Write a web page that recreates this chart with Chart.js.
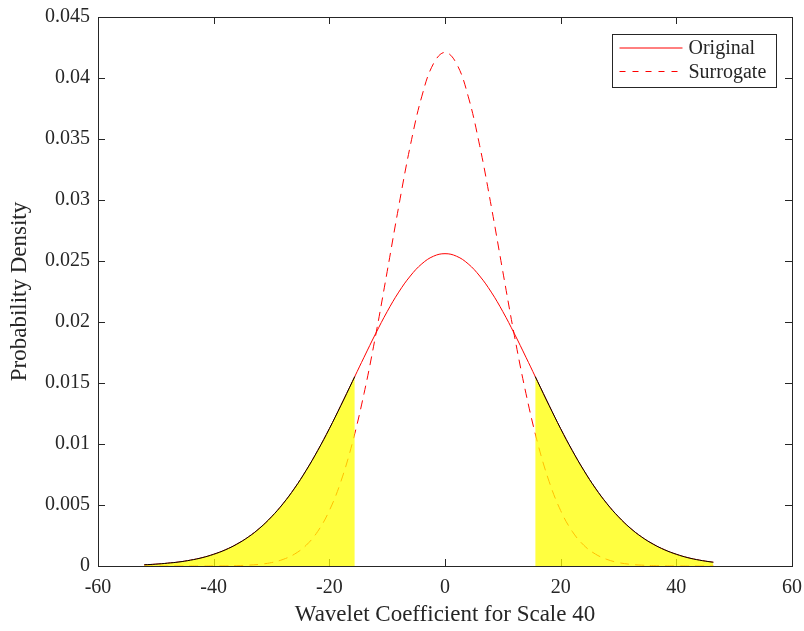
<!DOCTYPE html>
<html>
<head>
<meta charset="utf-8">
<script src="https://cdn.jsdelivr.net/npm/chart.js@4/dist/chart.umd.min.js"></script>
<style>
  html, body { margin: 0; padding: 0; background: #fff; }
  #wrap { width: 804px; height: 631px; }
</style>
</head>
<body>
<div id="wrap"><canvas id="c" width="804" height="631"></canvas></div>
<script>
// values
const xOriginal = [-52,-50,-48,-46,-44,-42,-40,-38,-36,-34,-32,-30,-28,-26,-24,-22,-20,-18,-16,-15.6,
  -14,-12,-10,-8,-6,-4,-2,0,2,4,6,8,10,12,14,
  15.6,16,18,20,22,24,26,28,30,32,34,36,38,40,42,44,46,46.4];
const yOriginal = [0.00010,0.00015,0.00023,0.00033,0.00048,0.00068,0.00096,0.00132,0.00179,0.00238,
  0.00312,0.00403,0.00511,0.00638,0.00784,0.00947,0.01125,0.01316,0.01513,0.01553,
  0.01711,0.01904,0.02085,0.02245,0.02377,0.02477,0.02539,0.02560,0.02539,0.02477,0.02377,0.02245,0.02085,0.01904,0.01711,
  0.01553,0.01513,0.01316,0.01125,0.00947,0.00784,0.00638,0.00511,0.00403,0.00312,0.00238,0.00179,0.00132,0.00096,0.00068,0.00048,0.00033,0.00031];

const xSurrogate = [-52,-50,-48,-46,-44,-42,-40,-38,-36,-34,-32,-30,-28,-26,-24,-22,-20,-18,-16,-14,-12,-10,-8,-6,-4,-2,
  0,2,4,6,8,10,12,14,16,18,20,22,24,26,28,30,32,34,36,38,40,42,44,46,46.4];
const ySurrogate = [0,0,0,0,0,0,0.00001,0.00001,0.00003,0.00007,0.00014,0.00028,0.00054,0.00098,0.00170,0.00284,
  0.00454,0.00693,0.01012,0.01414,0.01888,0.02413,0.02948,0.03445,0.03851,0.04117,
  0.04210,0.04117,0.03851,0.03445,0.02948,0.02413,0.01888,0.01414,0.01012,0.00693,0.00454,0.00284,0.00170,0.00098,
  0.00054,0.00028,0.00014,0.00007,0.00003,0.00001,0.00001,0,0,0,0];

const tailCut = 15.6;
const xTicks = [-60,-40,-20,0,20,40,60];
const yTicks = [0,0.005,0.01,0.015,0.02,0.025,0.03,0.035,0.04,0.045];
const seriesNames = ['Original','Surrogate'];

const axisColor = '#262626';
const fontFam = '"Liberation Serif", "Times New Roman", serif';
Chart.defaults.font.family = fontFam;
Chart.defaults.color = axisColor;

const pts = (xs, ys) => xs.map((x, i) => ({ x, y: ys[i] }));
const original = pts(xOriginal, yOriginal);
const surrogate = pts(xSurrogate, ySurrogate);

// box + inward ticks on all four sides, under the data like matlab
const framePlugin = {
  id: 'frame',
  beforeDatasetsDraw(chart) {
    const { ctx, chartArea: a, scales: { x, y } } = chart;
    const tl = 7;
    ctx.save();
    ctx.strokeStyle = axisColor;
    ctx.lineWidth = 1;
    ctx.beginPath();
    xTicks.forEach(v => {
      const px = Math.round(x.getPixelForValue(v)) + 0.5;
      ctx.moveTo(px, a.bottom); ctx.lineTo(px, a.bottom - tl);
      ctx.moveTo(px, a.top); ctx.lineTo(px, a.top + tl);
    });
    yTicks.forEach(v => {
      const py = Math.round(y.getPixelForValue(v)) + 0.5;
      ctx.moveTo(a.left, py); ctx.lineTo(a.left + tl, py);
      ctx.moveTo(a.right, py); ctx.lineTo(a.right - tl, py);
    });
    ctx.stroke();
    ctx.strokeRect(Math.round(a.left) + 0.5, Math.round(a.top) + 0.5,
      Math.round(a.right - a.left), Math.round(a.bottom - a.top));
    ctx.restore();
  }
};

const legendPlugin = {
  id: 'boxLegend',
  afterDraw(chart) {
    const { ctx, chartArea: a } = chart;
    const w = 164, h = 53;
    const bx = Math.round(a.right - 16 - w) + 0.5, by = Math.round(a.top + 17) + 0.5;
    ctx.save();
    ctx.fillStyle = '#fff';
    ctx.fillRect(bx, by, w, h);
    ctx.strokeStyle = axisColor;
    ctx.lineWidth = 1;
    ctx.strokeRect(bx, by, w, h);
    ctx.font = '20px ' + fontFam;
    ctx.textBaseline = 'middle';
    ctx.fillStyle = axisColor;
    seriesNames.forEach((name, i) => {
      const cy = by + 13.5 + i * 23.5;
      ctx.strokeStyle = '#ff0000';
      ctx.setLineDash(i === 1 ? [6, 7] : []);
      ctx.beginPath();
      ctx.moveTo(bx + 7, cy); ctx.lineTo(bx + 70, cy);
      ctx.stroke();
      ctx.fillText(name, bx + 76, cy + 1);
    });
    ctx.restore();
  }
};

const tailStyle = {
  fill: 'origin',
  backgroundColor: 'rgba(255,255,0,0.75)',
  borderColor: '#000',
  borderWidth: 1,
  tension: 0.4,
  order: 0
};

new Chart(document.getElementById('c'), {
  type: 'line',
  data: {
    datasets: [
      { label: 'lowTail', data: original.filter(p => p.x <= -tailCut), ...tailStyle },
      { label: 'highTail', data: original.filter(p => p.x >= tailCut), ...tailStyle },
      { label: seriesNames[0], data: original, borderColor: '#ff0000', borderWidth: 1, tension: 0.4, fill: false, order: 1 },
      { label: seriesNames[1], data: surrogate, borderColor: '#ff0000', borderWidth: 1, borderDash: [9, 6], tension: 0.4, fill: false, order: 2 }
    ]
  },
  options: {
    responsive: false,
    animation: false,
    layout: { padding: { top: 17, right: 12, left: 0, bottom: 0 } },
    elements: { point: { radius: 0 } },
    plugins: { legend: { display: false }, tooltip: { enabled: false } },
    scales: {
      x: {
        type: 'linear', min: -60, max: 60,
        afterBuildTicks: s => { s.ticks = xTicks.map(v => ({ value: v })); },
        afterFit: s => { s.height = 65; s.paddingLeft = 0; s.paddingRight = 0; },
        grid: { display: false, drawTicks: false },
        border: { display: false },
        ticks: { padding: 10, font: { size: 20 }, color: axisColor, maxRotation: 0, callback: v => String(v) },
        title: { display: true, text: 'Wavelet Coefficient for Scale 40', font: { size: 23 }, color: axisColor, padding: { top: 0, bottom: 2 } }
      },
      y: {
        min: 0, max: 0.045,
        afterBuildTicks: s => { s.ticks = yTicks.map(v => ({ value: v })); },
        afterFit: s => { s.width = 98; s.paddingTop = 0; s.paddingBottom = 0; },
        grid: { display: false, drawTicks: false },
        border: { display: false },
        ticks: { padding: 8, font: { size: 20 }, color: axisColor, callback: v => v === 0 ? '0' : String(+v.toFixed(3)) },
        title: { display: true, text: 'Probability Density', font: { size: 23 }, color: axisColor, padding: { top: 6, bottom: 6 } }
      }
    }
  },
  plugins: [framePlugin, legendPlugin]
});
</script>
</body>
</html>
